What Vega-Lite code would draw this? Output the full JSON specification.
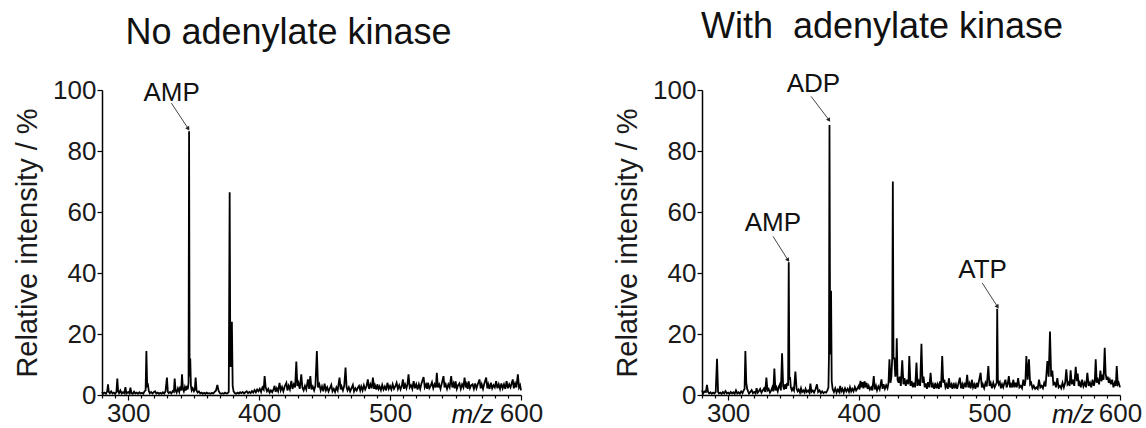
{
"$schema": "https://vega.github.io/schema/vega-lite/v6.json",
"background": "white",
"padding": {"left": 13, "top": 9, "right": 0, "bottom": 0},
"config": {
  "font": "Liberation Sans",
  "view": {"stroke": null},
  "axis": {"domainColor": "black", "tickColor": "black", "labelColor": "#1a1a1a", "titleColor": "#1a1a1a", "grid": false, "domainWidth": 1.5, "tickWidth": 1.2, "labelFont": "Liberation Sans", "titleFont": "Liberation Sans", "titleFontWeight": "normal"},
  "title": {"fontSize": 36, "fontWeight": "normal", "font": "Liberation Sans", "color": "#111", "offset": 25}
},
"bounds": "flush",
"spacing": 181,
"datasets": {
"L": [
{"x":280,"y":1.0},{"x":281,"y":0.5},{"x":282,"y":0.8},{"x":283,"y":0.4},{"x":284,"y":1.2},{"x":284.6,"y":3.5},{"x":285.2,"y":1.0},{"x":286,"y":0.6},{"x":287,"y":1.2},{"x":288,"y":0.5},{"x":289,"y":0.8},{"x":290,"y":0.4},{"x":291,"y":1.0},{"x":291.7,"y":5.4},{"x":292.3,"y":1.2},{"x":293,"y":0.6},{"x":294,"y":1.5},{"x":295,"y":0.5},{"x":296,"y":0.9},{"x":297,"y":0.6},{"x":297.9,"y":2.6},{"x":298.6,"y":0.5},{"x":300,"y":1.0},{"x":301,"y":0.5},{"x":301.7,"y":2.4},{"x":302.5,"y":0.6},{"x":303.5,"y":0.4},{"x":304.5,"y":1.1},{"x":305.5,"y":0.5},{"x":306.5,"y":0.8},{"x":307.5,"y":0.4},{"x":308.5,"y":0.9},{"x":309.5,"y":0.5},{"x":310.5,"y":0.7},{"x":311.5,"y":0.4},{"x":312.5,"y":1.2},{"x":313.3,"y":1.5},{"x":313.9,"y":14.4},{"x":314.5,"y":3.0},{"x":315.1,"y":3.3},{"x":315.8,"y":1.2},{"x":316.5,"y":0.6},{"x":317.5,"y":1.0},{"x":318.5,"y":0.5},{"x":319.5,"y":0.9},{"x":320.5,"y":1.2},{"x":321.5,"y":0.5},{"x":322.5,"y":0.8},{"x":323.5,"y":0.4},{"x":324.5,"y":0.7},{"x":325.5,"y":0.4},{"x":326.5,"y":0.9},{"x":327.5,"y":0.5},{"x":328.5,"y":1.2},{"x":329.6,"y":5.7},{"x":330.3,"y":1.0},{"x":331,"y":0.6},{"x":332,"y":1.0},{"x":333,"y":0.5},{"x":334,"y":1.3},{"x":334.9,"y":1.0},{"x":335.5,"y":5.4},{"x":336.2,"y":1.5},{"x":337,"y":0.8},{"x":338,"y":2.2},{"x":339,"y":1.0},{"x":339.8,"y":2.8},{"x":340.5,"y":1.5},{"x":341.1,"y":6.8},{"x":341.8,"y":2.0},{"x":342.5,"y":1.2},{"x":343.3,"y":2.6},{"x":344,"y":1.5},{"x":344.8,"y":3.0},{"x":345.5,"y":1.8},{"x":346.1,"y":4.0},{"x":346.5,"y":86.5},{"x":346.9,"y":6.0},{"x":347.4,"y":12.0},{"x":347.9,"y":3.0},{"x":348.5,"y":1.5},{"x":349.3,"y":2.2},{"x":350.2,"y":1.2},{"x":350.9,"y":1.8},{"x":351.5,"y":5.7},{"x":352.2,"y":1.5},{"x":353,"y":0.8},{"x":354,"y":1.2},{"x":355,"y":0.5},{"x":356,"y":0.8},{"x":357,"y":0.4},{"x":358,"y":0.7},{"x":359,"y":0.4},{"x":360,"y":0.8},{"x":361,"y":0.5},{"x":362,"y":0.6},{"x":363,"y":0.4},{"x":364,"y":0.7},{"x":365,"y":0.5},{"x":366,"y":1.0},{"x":367,"y":1.4},{"x":368.1,"y":3.3},{"x":369,"y":1.4},{"x":370,"y":0.6},{"x":371,"y":0.4},{"x":372,"y":0.6},{"x":373,"y":0.4},{"x":374,"y":0.8},{"x":375,"y":0.5},{"x":376,"y":0.6},{"x":376.8,"y":1.0},{"x":377.5,"y":66.5},{"x":378,"y":9.5},{"x":378.6,"y":9.5},{"x":379.2,"y":24.0},{"x":379.8,"y":3.0},{"x":380.5,"y":1.2},{"x":381.5,"y":0.6},{"x":382.5,"y":0.4},{"x":383.5,"y":0.8},{"x":384.5,"y":0.5},{"x":385.5,"y":0.9},{"x":386.5,"y":0.6},{"x":387.5,"y":1.0},{"x":388.5,"y":0.5},{"x":389.5,"y":0.9},{"x":390.5,"y":1.2},{"x":391.5,"y":0.6},{"x":392.5,"y":1.0},{"x":393.5,"y":0.6},{"x":394.5,"y":1.3},{"x":395.5,"y":0.8},{"x":396.5,"y":1.6},{"x":397.5,"y":0.9},{"x":398.5,"y":1.8},{"x":399.5,"y":1.2},{"x":400.5,"y":2.0},{"x":401.5,"y":1.0},{"x":402.5,"y":2.5},{"x":403.5,"y":1.8},{"x":404.2,"y":6.2},{"x":405,"y":2.5},{"x":406,"y":1.2},{"x":407,"y":2.0},{"x":408,"y":0.8},{"x":409,"y":1.5},{"x":410,"y":0.9},{"x":411,"y":1.8},{"x":411.8,"y":3.0},{"x":412.6,"y":1.0},{"x":413.5,"y":2.2},{"x":414.5,"y":1.2},{"x":415.6,"y":4.0},{"x":416.5,"y":1.5},{"x":417.5,"y":2.6},{"x":418.5,"y":1.2},{"x":419.5,"y":2.8},{"x":420.8,"y":4.0},{"x":421.6,"y":1.5},{"x":422.5,"y":3.0},{"x":423.5,"y":1.8},{"x":424.6,"y":4.6},{"x":425.5,"y":2.0},{"x":426.5,"y":3.5},{"x":427.5,"y":2.5},{"x":428.4,"y":11.0},{"x":429.2,"y":3.0},{"x":430,"y":4.0},{"x":431,"y":2.0},{"x":432.2,"y":6.8},{"x":433,"y":2.5},{"x":434,"y":1.5},{"x":435,"y":3.0},{"x":436,"y":1.8},{"x":437.3,"y":5.1},{"x":438.2,"y":2.0},{"x":439.1,"y":6.2},{"x":440,"y":1.8},{"x":441,"y":2.8},{"x":442,"y":1.5},{"x":443,"y":3.0},{"x":444.1,"y":14.4},{"x":445,"y":2.5},{"x":446,"y":3.5},{"x":447,"y":1.5},{"x":448,"y":2.8},{"x":449,"y":1.2},{"x":450,"y":3.7},{"x":451,"y":1.5},{"x":452,"y":2.5},{"x":453,"y":1.2},{"x":454,"y":2.2},{"x":455.1,"y":3.3},{"x":456,"y":1.2},{"x":457,"y":2.0},{"x":458,"y":1.0},{"x":459,"y":2.5},{"x":460,"y":1.5},{"x":461.4,"y":5.7},{"x":462.3,"y":1.8},{"x":463,"y":2.8},{"x":464,"y":1.5},{"x":465,"y":3.0},{"x":466,"y":9.0},{"x":466.8,"y":2.5},{"x":467.5,"y":1.5},{"x":468.5,"y":2.5},{"x":469.5,"y":1.2},{"x":470.5,"y":2.2},{"x":471.6,"y":3.3},{"x":472.5,"y":1.2},{"x":473.5,"y":2.2},{"x":474.5,"y":1.5},{"x":475.5,"y":2.5},{"x":476.3,"y":3.0},{"x":477.2,"y":1.5},{"x":478,"y":2.8},{"x":479,"y":1.5},{"x":480,"y":3.2},{"x":481,"y":1.8},{"x":482,"y":2.8},{"x":483,"y":5.1},{"x":484,"y":2.0},{"x":485,"y":3.5},{"x":486,"y":2.2},{"x":486.9,"y":5.7},{"x":487.8,"y":2.0},{"x":488.5,"y":3.2},{"x":489.5,"y":1.8},{"x":490.3,"y":3.5},{"x":491.2,"y":2.0},{"x":492,"y":2.8},{"x":493,"y":1.6},{"x":494,"y":3.3},{"x":495,"y":1.8},{"x":496,"y":2.8},{"x":497,"y":1.5},{"x":498,"y":4.0},{"x":499,"y":2.0},{"x":500,"y":3.0},{"x":501,"y":1.8},{"x":502,"y":3.5},{"x":503,"y":2.0},{"x":504,"y":2.8},{"x":505,"y":4.0},{"x":506,"y":2.0},{"x":507,"y":3.2},{"x":508,"y":1.8},{"x":509,"y":3.0},{"x":509.8,"y":5.1},{"x":510.6,"y":2.0},{"x":511.5,"y":3.5},{"x":512.5,"y":2.2},{"x":513.3,"y":3.5},{"x":514.1,"y":6.8},{"x":515,"y":2.5},{"x":516,"y":3.2},{"x":517,"y":2.0},{"x":518,"y":4.5},{"x":519,"y":2.2},{"x":520,"y":3.5},{"x":521,"y":1.8},{"x":522,"y":3.5},{"x":523,"y":2.0},{"x":524,"y":3.8},{"x":525.6,"y":5.9},{"x":526.5,"y":2.5},{"x":527.5,"y":3.5},{"x":528.3,"y":2.0},{"x":529,"y":4.0},{"x":530,"y":2.2},{"x":531,"y":3.0},{"x":532,"y":4.2},{"x":533,"y":2.2},{"x":534,"y":3.5},{"x":535,"y":2.5},{"x":535.7,"y":7.3},{"x":536.5,"y":2.5},{"x":537.5,"y":3.5},{"x":538.5,"y":2.0},{"x":539.5,"y":3.8},{"x":540.8,"y":6.2},{"x":541.6,"y":2.5},{"x":542.5,"y":3.5},{"x":543.5,"y":2.0},{"x":544.5,"y":3.5},{"x":545.5,"y":2.5},{"x":546.7,"y":6.2},{"x":547.5,"y":2.5},{"x":548.5,"y":3.8},{"x":549.3,"y":2.2},{"x":550,"y":4.5},{"x":551,"y":2.0},{"x":552,"y":3.2},{"x":553,"y":3.8},{"x":554,"y":2.0},{"x":555,"y":3.5},{"x":556,"y":2.5},{"x":556.9,"y":5.7},{"x":557.8,"y":2.5},{"x":558.5,"y":3.5},{"x":559.3,"y":2.0},{"x":560,"y":4.5},{"x":561,"y":2.2},{"x":562,"y":3.2},{"x":563,"y":3.5},{"x":564,"y":2.0},{"x":565,"y":3.8},{"x":566,"y":2.2},{"x":567,"y":3.5},{"x":568.3,"y":5.1},{"x":569.2,"y":2.2},{"x":570,"y":3.5},{"x":571,"y":2.0},{"x":572,"y":3.8},{"x":573.4,"y":5.7},{"x":574.3,"y":2.2},{"x":575,"y":3.5},{"x":576,"y":2.0},{"x":577,"y":4.0},{"x":578,"y":2.2},{"x":579,"y":3.2},{"x":580,"y":2.5},{"x":581,"y":4.5},{"x":582,"y":2.2},{"x":583,"y":3.5},{"x":584,"y":2.0},{"x":585,"y":3.8},{"x":586,"y":2.2},{"x":587,"y":3.5},{"x":588,"y":2.0},{"x":589,"y":4.5},{"x":590,"y":2.2},{"x":591,"y":3.5},{"x":592,"y":2.5},{"x":593.7,"y":5.1},{"x":594.5,"y":2.2},{"x":595.5,"y":3.8},{"x":596.5,"y":2.5},{"x":597.6,"y":6.8},{"x":598.5,"y":2.5},{"x":599.3,"y":3.2},{"x":600,"y":1.5}
],
"R": [
{"x":280,"y":1.5},{"x":281,"y":0.6},{"x":282,"y":1.2},{"x":283,"y":1.0},{"x":283.8,"y":3.3},{"x":284.6,"y":1.0},{"x":285.5,"y":0.5},{"x":286.5,"y":0.9},{"x":287.5,"y":0.4},{"x":288.5,"y":0.8},{"x":289.5,"y":0.5},{"x":290.5,"y":1.0},{"x":291.5,"y":11.9},{"x":292.3,"y":1.0},{"x":293,"y":0.5},{"x":294,"y":0.8},{"x":295,"y":0.4},{"x":296,"y":1.0},{"x":297,"y":0.5},{"x":298,"y":1.3},{"x":299,"y":0.5},{"x":300,"y":0.8},{"x":301,"y":0.4},{"x":302,"y":1.0},{"x":303,"y":0.5},{"x":304,"y":0.9},{"x":305,"y":0.4},{"x":306,"y":1.5},{"x":307,"y":0.5},{"x":308,"y":0.9},{"x":309,"y":0.4},{"x":310,"y":1.2},{"x":311,"y":0.6},{"x":312,"y":1.6},{"x":312.6,"y":2.0},{"x":313.2,"y":14.4},{"x":313.9,"y":4.0},{"x":314.6,"y":2.0},{"x":315.3,"y":1.2},{"x":316,"y":0.5},{"x":317,"y":1.0},{"x":318,"y":1.6},{"x":319,"y":0.6},{"x":320,"y":1.0},{"x":321,"y":0.5},{"x":321.8,"y":2.2},{"x":322.7,"y":0.8},{"x":323.5,"y":1.2},{"x":324.5,"y":2.0},{"x":325.5,"y":0.8},{"x":326.5,"y":1.5},{"x":327.5,"y":2.2},{"x":328.4,"y":1.0},{"x":329.3,"y":5.7},{"x":330.1,"y":1.5},{"x":331,"y":2.0},{"x":332,"y":0.8},{"x":333,"y":1.5},{"x":333.8,"y":2.5},{"x":334.6,"y":1.2},{"x":335.4,"y":8.7},{"x":336.2,"y":1.5},{"x":337,"y":2.5},{"x":338,"y":1.2},{"x":338.8,"y":2.8},{"x":339.6,"y":3.5},{"x":340.4,"y":1.5},{"x":341.3,"y":13.7},{"x":342.1,"y":3.0},{"x":342.8,"y":1.8},{"x":343.6,"y":3.5},{"x":344.4,"y":2.0},{"x":345.2,"y":4.0},{"x":345.9,"y":3.0},{"x":346.4,"y":43.5},{"x":346.9,"y":5.0},{"x":347.4,"y":5.9},{"x":348,"y":2.5},{"x":348.8,"y":1.5},{"x":349.6,"y":2.2},{"x":350.4,"y":1.5},{"x":351.5,"y":7.7},{"x":352.4,"y":2.0},{"x":353.2,"y":1.2},{"x":354,"y":1.8},{"x":355,"y":0.8},{"x":355.8,"y":2.2},{"x":356.6,"y":1.0},{"x":357.5,"y":1.5},{"x":358.5,"y":0.8},{"x":359.3,"y":2.0},{"x":360.2,"y":1.0},{"x":361.2,"y":1.5},{"x":362.2,"y":0.8},{"x":363,"y":3.7},{"x":363.8,"y":1.0},{"x":364.8,"y":1.5},{"x":365.8,"y":0.8},{"x":366.8,"y":1.8},{"x":368,"y":3.5},{"x":368.9,"y":1.0},{"x":370,"y":1.5},{"x":371,"y":0.6},{"x":372,"y":1.2},{"x":373,"y":0.6},{"x":374,"y":1.0},{"x":375,"y":0.8},{"x":376,"y":1.5},{"x":376.8,"y":2.5},{"x":377.2,"y":13.0},{"x":377.6,"y":88.5},{"x":378.1,"y":13.3},{"x":378.8,"y":34.2},{"x":379.3,"y":4.5},{"x":380,"y":2.0},{"x":381,"y":1.0},{"x":382,"y":2.2},{"x":383,"y":0.8},{"x":384,"y":1.8},{"x":385,"y":1.0},{"x":385.8,"y":3.0},{"x":386.6,"y":1.2},{"x":387.5,"y":2.0},{"x":388.5,"y":0.8},{"x":389.5,"y":2.2},{"x":390.5,"y":1.2},{"x":391.5,"y":2.0},{"x":392.5,"y":1.0},{"x":393.3,"y":2.5},{"x":394.2,"y":1.2},{"x":395,"y":2.0},{"x":396,"y":1.2},{"x":397,"y":2.6},{"x":398,"y":1.5},{"x":399,"y":2.2},{"x":400,"y":3.0},{"x":400.6,"y":1.8},{"x":401.3,"y":4.6},{"x":402,"y":2.5},{"x":402.8,"y":4.2},{"x":403.6,"y":2.2},{"x":404.4,"y":4.5},{"x":405.2,"y":2.5},{"x":406,"y":4.0},{"x":406.8,"y":2.0},{"x":407.6,"y":3.0},{"x":408.5,"y":1.8},{"x":409.5,"y":2.5},{"x":410.4,"y":1.5},{"x":411.5,"y":6.2},{"x":412.3,"y":1.8},{"x":413.2,"y":3.0},{"x":414,"y":1.5},{"x":415,"y":2.8},{"x":416,"y":1.8},{"x":417.4,"y":5.1},{"x":418.2,"y":2.0},{"x":419,"y":3.5},{"x":420,"y":2.0},{"x":421,"y":3.2},{"x":422,"y":2.2},{"x":422.8,"y":4.0},{"x":423.5,"y":11.7},{"x":424.3,"y":4.0},{"x":425,"y":6.0},{"x":425.6,"y":12.0},{"x":426.1,"y":70.0},{"x":426.6,"y":12.0},{"x":427.3,"y":12.0},{"x":428,"y":6.0},{"x":428.6,"y":8.0},{"x":429.1,"y":18.6},{"x":429.7,"y":5.0},{"x":430.5,"y":4.0},{"x":431.3,"y":6.0},{"x":432.2,"y":3.0},{"x":433.3,"y":11.4},{"x":434.2,"y":3.5},{"x":435,"y":5.5},{"x":436,"y":3.0},{"x":437,"y":5.0},{"x":438,"y":3.5},{"x":438.7,"y":12.8},{"x":439.6,"y":3.0},{"x":440.5,"y":4.5},{"x":441.4,"y":2.5},{"x":442.3,"y":4.0},{"x":443.2,"y":2.5},{"x":444.2,"y":10.6},{"x":445,"y":3.0},{"x":446,"y":4.5},{"x":447,"y":3.0},{"x":448,"y":16.8},{"x":448.8,"y":4.0},{"x":449.6,"y":6.0},{"x":450.5,"y":2.5},{"x":451.3,"y":3.8},{"x":452.2,"y":2.0},{"x":453,"y":4.2},{"x":454,"y":2.5},{"x":455,"y":7.3},{"x":455.9,"y":2.5},{"x":456.8,"y":3.5},{"x":457.7,"y":2.0},{"x":458.6,"y":4.0},{"x":459.5,"y":2.2},{"x":460.4,"y":3.5},{"x":461.3,"y":2.0},{"x":462.2,"y":4.5},{"x":463,"y":2.5},{"x":463.9,"y":12.8},{"x":464.7,"y":4.0},{"x":465.5,"y":5.0},{"x":466.4,"y":2.5},{"x":467.3,"y":3.5},{"x":468.2,"y":2.0},{"x":469,"y":5.5},{"x":469.9,"y":2.5},{"x":470.8,"y":3.5},{"x":471.7,"y":2.0},{"x":472.6,"y":4.0},{"x":473.5,"y":2.2},{"x":474.4,"y":3.5},{"x":475.3,"y":2.0},{"x":476.2,"y":3.5},{"x":477.4,"y":5.7},{"x":478.3,"y":2.2},{"x":479.2,"y":3.5},{"x":480,"y":2.0},{"x":481,"y":4.0},{"x":482,"y":2.5},{"x":483,"y":6.6},{"x":483.9,"y":2.5},{"x":484.8,"y":3.8},{"x":485.7,"y":2.2},{"x":486.6,"y":5.0},{"x":487.5,"y":2.5},{"x":488.4,"y":3.5},{"x":489.3,"y":2.0},{"x":490.2,"y":4.0},{"x":491.1,"y":2.5},{"x":492,"y":4.5},{"x":493.3,"y":7.3},{"x":494.2,"y":2.5},{"x":495,"y":3.5},{"x":496,"y":2.2},{"x":497,"y":4.0},{"x":498,"y":2.8},{"x":499.2,"y":9.5},{"x":500.1,"y":3.0},{"x":501,"y":4.0},{"x":502,"y":2.2},{"x":503,"y":4.0},{"x":504,"y":2.5},{"x":505,"y":3.5},{"x":505.6,"y":4.0},{"x":506,"y":28.3},{"x":506.5,"y":5.0},{"x":507.2,"y":3.5},{"x":508,"y":4.2},{"x":508.8,"y":2.2},{"x":509.7,"y":3.5},{"x":510.6,"y":2.5},{"x":511.5,"y":4.0},{"x":512.3,"y":5.0},{"x":513.2,"y":2.5},{"x":514,"y":3.5},{"x":514.9,"y":6.2},{"x":515.8,"y":2.5},{"x":516.6,"y":3.5},{"x":517.5,"y":2.5},{"x":518.3,"y":5.0},{"x":519.2,"y":2.5},{"x":520,"y":4.0},{"x":521,"y":2.5},{"x":522,"y":5.5},{"x":523,"y":2.5},{"x":524,"y":3.0},{"x":525,"y":2.2},{"x":526,"y":5.0},{"x":527,"y":3.0},{"x":527.6,"y":4.5},{"x":528.3,"y":12.8},{"x":529.3,"y":5.0},{"x":530.3,"y":11.7},{"x":531.2,"y":3.5},{"x":532,"y":4.0},{"x":533,"y":2.2},{"x":534,"y":3.0},{"x":535,"y":2.0},{"x":536,"y":2.5},{"x":537,"y":2.0},{"x":538,"y":5.0},{"x":539,"y":2.5},{"x":540,"y":3.0},{"x":541,"y":2.2},{"x":542,"y":4.0},{"x":543,"y":2.8},{"x":544.4,"y":11.1},{"x":545.4,"y":6.0},{"x":546.4,"y":20.8},{"x":547.3,"y":6.0},{"x":548.2,"y":8.0},{"x":549,"y":3.5},{"x":550,"y":4.0},{"x":551,"y":2.5},{"x":552,"y":5.5},{"x":553,"y":2.5},{"x":554,"y":3.0},{"x":555,"y":2.2},{"x":556,"y":4.0},{"x":557,"y":2.5},{"x":558,"y":4.0},{"x":558.9,"y":8.4},{"x":559.8,"y":3.5},{"x":560.6,"y":4.0},{"x":561.4,"y":3.0},{"x":562.2,"y":8.1},{"x":563.1,"y":3.5},{"x":564,"y":5.0},{"x":565,"y":3.0},{"x":566.1,"y":9.2},{"x":567,"y":4.5},{"x":567.6,"y":7.0},{"x":568.4,"y":3.0},{"x":569.2,"y":4.0},{"x":570,"y":2.5},{"x":571,"y":5.0},{"x":572,"y":2.8},{"x":573,"y":4.0},{"x":574,"y":2.5},{"x":575,"y":7.3},{"x":576,"y":3.0},{"x":577,"y":4.0},{"x":578,"y":2.5},{"x":579,"y":5.0},{"x":580,"y":3.0},{"x":580.7,"y":4.5},{"x":581.4,"y":11.7},{"x":582.2,"y":4.0},{"x":583,"y":5.0},{"x":584,"y":3.5},{"x":585,"y":8.0},{"x":585.8,"y":4.5},{"x":586.5,"y":6.0},{"x":587.4,"y":5.0},{"x":588.3,"y":15.5},{"x":589,"y":7.0},{"x":589.8,"y":5.0},{"x":590.6,"y":6.0},{"x":591.4,"y":4.0},{"x":592.2,"y":5.0},{"x":593,"y":3.5},{"x":594,"y":5.0},{"x":595,"y":2.5},{"x":596,"y":4.0},{"x":596.8,"y":3.0},{"x":597.5,"y":9.5},{"x":598.3,"y":3.5},{"x":599,"y":4.0},{"x":600,"y":2.5}
],
"AL": [
{"label":"AMP","x":333.2,"y":96.5,"ax":333,"ay":95.7,"tx":345.6,"ty":87.5}
],
"AR": [
{"label":"AMP","x":334.3,"y":53.7,"ax":334.4,"ay":52,"tx":345.6,"ty":44.4},
{"label":"ADP","x":365.3,"y":99.2,"ax":363.5,"ay":97.9,"tx":377,"ty":90.3},
{"label":"ATP","x":494.8,"y":38.4,"ax":494.6,"ay":36.7,"tx":506,"ty":29.1}
],
"MZ": [{"unit":"m/z"}]
},
"hconcat": [
{
"width": 419, "height": 305,
"title": {"text": "No adenylate kinase", "anchor": "middle", "dx": -23},
"resolve": {"axis": {"x": "independent"}},
"layer": [
 {"data": {"name": "L"},
  "mark": {"type": "line", "color": "black", "strokeWidth": 1.8},
  "encoding": {
   "x": {"field": "x", "type": "quantitative", "scale": {"domain": [280, 600], "nice": false, "zero": false},
     "axis": {"title": null, "values": [300,400,500,600], "tickSize": 5, "labelFontSize": 26, "labelPadding": 0, "labelFlush": false}},
   "y": {"field": "y", "type": "quantitative", "scale": {"domain": [0, 100], "nice": false},
     "axis": {"title": "Relative intensity / %", "values": [0,20,40,60,80,100], "tickSize": 5, "labelFontSize": 26, "labelPadding": 1, "titleFontSize": 29, "titlePadding": 10}}
  }},
 {"data": {"name": "AL"},
  "mark": {"type": "rule", "color": "#444", "strokeWidth": 1},
  "encoding": {"x": {"field": "ax", "type": "quantitative", "axis": null}, "y": {"field": "ay", "type": "quantitative"}, "x2": {"field": "tx"}, "y2": {"field": "ty"}}},
 {"data": {"name": "AL"},
  "mark": {"type": "point", "shape": "triangle", "angle": 147, "filled": true, "size": 22, "color": "#222", "opacity": 1},
  "encoding": {"x": {"field": "tx", "type": "quantitative", "axis": null}, "y": {"field": "ty", "type": "quantitative"}}},
 {"data": {"name": "AL"},
  "mark": {"type": "text", "fontSize": 26, "align": "center", "baseline": "alphabetic", "color": "#111"},
  "encoding": {"x": {"field": "x", "type": "quantitative", "axis": null}, "y": {"field": "y", "type": "quantitative"}, "text": {"field": "label"}}},
 {"data": {"name": "MZ"},
  "mark": {"type": "text", "fontSize": 26, "fontStyle": "italic", "align": "center", "baseline": "alphabetic", "color": "#111"},
  "encoding": {"x": {"datum": 563, "type": "quantitative",
     "axis": {"orient": "bottom", "title": null, "values": [280,290,310,320,330,340,350,360,370,380,390,410,420,430,440,450,460,470,480,490,510,520,530,540,550,560,570,580,590], "labels": false, "domain": false, "tickSize": 3}},
   "y": {"datum": -9.2, "type": "quantitative"}, "text": {"field": "unit"}}}
]
},
{
"width": 418, "height": 305,
"title": {"text": "With\u00a0 adenylate kinase", "anchor": "middle", "dx": -29},
"resolve": {"axis": {"x": "independent"}},
"layer": [
 {"data": {"name": "R"},
  "mark": {"type": "line", "color": "black", "strokeWidth": 1.8},
  "encoding": {
   "x": {"field": "x", "type": "quantitative", "scale": {"domain": [280, 600], "nice": false, "zero": false},
     "axis": {"title": null, "values": [300,400,500,600], "tickSize": 5, "labelFontSize": 26, "labelPadding": 0, "labelFlush": false}},
   "y": {"field": "y", "type": "quantitative", "scale": {"domain": [0, 100], "nice": false},
     "axis": {"title": "Relative intensity / %", "values": [0,20,40,60,80,100], "tickSize": 5, "labelFontSize": 26, "labelPadding": 1, "titleFontSize": 29, "titlePadding": 10}}
  }},
 {"data": {"name": "AR"},
  "mark": {"type": "rule", "color": "#444", "strokeWidth": 1},
  "encoding": {"x": {"field": "ax", "type": "quantitative", "axis": null}, "y": {"field": "ay", "type": "quantitative"}, "x2": {"field": "tx"}, "y2": {"field": "ty"}}},
 {"data": {"name": "AR"},
  "mark": {"type": "point", "shape": "triangle", "angle": 147, "filled": true, "size": 22, "color": "#222", "opacity": 1},
  "encoding": {"x": {"field": "tx", "type": "quantitative", "axis": null}, "y": {"field": "ty", "type": "quantitative"}}},
 {"data": {"name": "AR"},
  "mark": {"type": "text", "fontSize": 26, "align": "center", "baseline": "alphabetic", "color": "#111"},
  "encoding": {"x": {"field": "x", "type": "quantitative", "axis": null}, "y": {"field": "y", "type": "quantitative"}, "text": {"field": "label"}}},
 {"data": {"name": "MZ"},
  "mark": {"type": "text", "fontSize": 26, "fontStyle": "italic", "align": "center", "baseline": "alphabetic", "color": "#111"},
  "encoding": {"x": {"datum": 564, "type": "quantitative",
     "axis": {"orient": "bottom", "title": null, "values": [280,290,310,320,330,340,350,360,370,380,390,410,420,430,440,450,460,470,480,490,510,520,530,540,550,560,570,580,590], "labels": false, "domain": false, "tickSize": 3}},
   "y": {"datum": -9.2, "type": "quantitative"}, "text": {"field": "unit"}}}
]
}
]
}
